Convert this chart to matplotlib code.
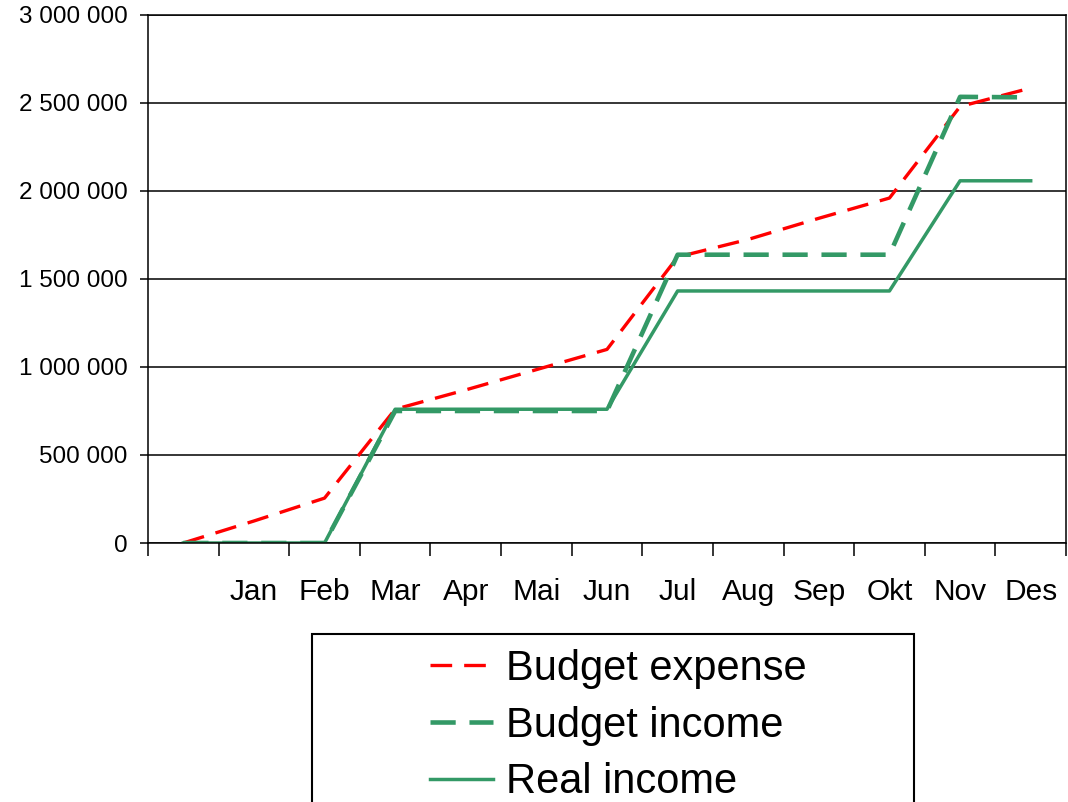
import numpy as np
import matplotlib
matplotlib.use('Agg')
import matplotlib.pyplot as plt
from matplotlib.patches import Rectangle
from matplotlib.ticker import FuncFormatter

plt.rcParams['font.family'] = ['Liberation Sans', 'DejaVu Sans']

# data
months = ['', 'Jan', 'Feb', 'Mar', 'Apr', 'Mai', 'Jun', 'Jul', 'Aug', 'Sep', 'Okt', 'Nov', 'Des']
budget_expense = [0, 125000, 255000, 760000, 870000, 985000, 1100000,
                  1625000, 1725000, 1845000, 1960000, 2480000, 2585000]
budget_income = [0, 0, 0, 750000, 750000, 750000, 750000,
                 1638000, 1638000, 1638000, 1638000, 2535000, 2532000]
real_income = [0, 0, 0, 760000, 760000, 760000, 760000,
               1432000, 1432000, 1432000, 1432000, 2058000, 2058000]

red = '#FF0000'
green = '#339966'

fig = plt.figure(figsize=(10.68, 8.02), dpi=100)
ax = fig.add_axes([148/1068, 1 - 543/802, (1066-148)/1068, (543-15)/802])

x = np.arange(len(months))
l1, = ax.plot(x, budget_expense, color=red, lw=2.4, dashes=(6.5, 3.6), label='Budget expense')
l2, = ax.plot(x, budget_income, color=green, lw=3.3, dashes=(5.5, 3), label='Budget income')
l3, = ax.plot(x, real_income, color=green, lw=2.5, label='Real income')

ax.set_xlim(-0.5, len(months) - 0.5)
ax.set_ylim(0, 3000000)
ax.set_yticks(np.arange(0, 3000001, 500000))
ax.yaxis.set_major_formatter(FuncFormatter(lambda v, p: f'{int(v):,}'.replace(',', ' ')))
ax.grid(axis='y', color='black', lw=1.1)
ax.set_axisbelow(True)

# tick marks between categories, labels at the centres
ax.set_xticks(np.arange(-0.5, len(months), 1.0))
ax.set_xticklabels([])
ax.set_xticks(x, minor=True)
ax.set_xticklabels(months, minor=True, fontsize=21.5)
ax.tick_params(axis='x', which='major', length=9, width=1.1, direction='out')
ax.tick_params(axis='x', which='minor', length=0, pad=25)
ax.tick_params(axis='y', length=5.5, width=1.1, pad=9, labelsize=17.5)

for s in ax.spines.values():
    s.set_linewidth(1.1)
    s.set_color('black')

# legend box, cut off at the bottom like the original
fig.patches.append(Rectangle((312/1068, -0.05), (914-312)/1068, 1.05 - 634/802,
                             transform=fig.transFigure, fill=False,
                             edgecolor='black', lw=1.5))
fig.legend(handles=[l1, l2, l3], loc='upper left',
           bbox_to_anchor=(430/1068, 1 - 649/802), frameon=False,
           fontsize=30, borderpad=0, borderaxespad=0,
           handlelength=1.52, handletextpad=0.3, labelspacing=0.4)

fig.savefig('out.png', dpi=100)
